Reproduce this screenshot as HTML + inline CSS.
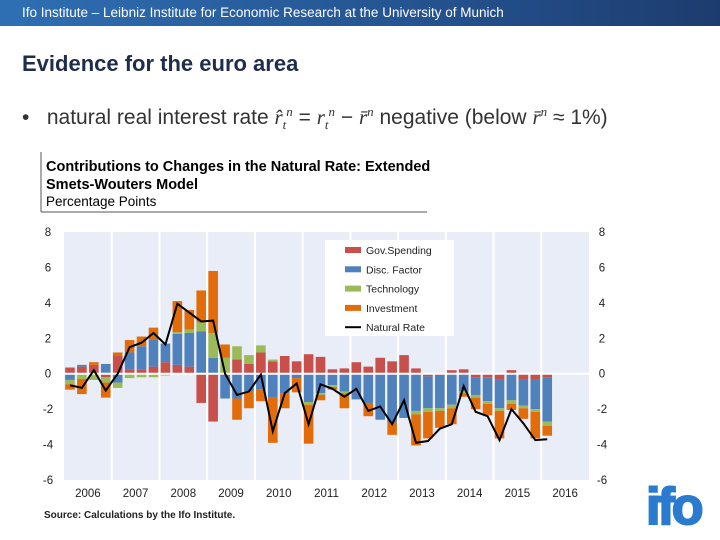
<!DOCTYPE html>
<html><head><meta charset="utf-8">
<style>
body{margin:0;width:720px;height:540px;background:#fff;font-family:"Liberation Sans",sans-serif;position:relative;overflow:hidden}
.hdr{position:absolute;left:0;top:0;width:720px;height:26px;background:linear-gradient(90deg,#2e6fb3,#24528f 60%,#1d3c6e)}
.hdr span{position:absolute;left:22px;top:5px;color:#fff;font-size:13.5px}
.title{position:absolute;left:22px;top:51px;font-size:22px;color:#1f2d4d;font-weight:bold}
.bullet{position:absolute;left:22px;top:104px;font-size:21px;color:#333}
</style></head><body>
<div class="hdr"><span>Ifo Institute – Leibniz Institute for Economic Research at the University of Munich</span></div>
<div class="title">Evidence for the euro area</div>
<div class="bullet">•&nbsp;&nbsp; natural real interest rate <i style="font-family:'Liberation Serif',serif">r̂<sub style="font-size:13px">t</sub><sup style="font-size:13px">n</sup></i> = <i style="font-family:'Liberation Serif',serif">r<sub style="font-size:13px">t</sub><sup style="font-size:13px">n</sup></i> − <i style="font-family:'Liberation Serif',serif">r̄<sup style="font-size:13px">n</sup></i> negative (below <i style="font-family:'Liberation Serif',serif">r̄<sup style="font-size:13px">n</sup></i> ≈ 1%)</div>
<svg id="chart" width="720" height="540" style="position:absolute;left:0;top:0">
<line x1="41" y1="152" x2="41" y2="212" stroke="#555" stroke-width="1"/>
<line x1="41" y1="212" x2="427" y2="212" stroke="#555" stroke-width="1"/>
<text x="46" y="171" font-size="14.5" font-weight="bold" fill="#000">Contributions to Changes in the Natural Rate: Extended</text>
<text x="46" y="189" font-size="14.5" font-weight="bold" fill="#000">Smets-Wouters Model</text>
<text x="46" y="206" font-size="13.5" fill="#000">Percentage Points</text>
<g id="plot"></g>
<text x="44" y="518" font-size="10" font-weight="bold" fill="#222">Source: Calculations by the Ifo Institute.</text>
<text x="646" y="524" font-size="52" font-weight="bold" fill="#2a7bd0" stroke="#2a7bd0" stroke-width="2" letter-spacing="-3">ifo</text>
</svg>
<script>
const years=["2006","2007","2008","2009","2010","2011","2012","2013","2014","2015","2016"];
const yTicks=[8,6,4,2,0,-2,-4,-6];
const gov=[.35,.4,.5,-.2,1.0,.25,.25,.4,.65,.5,.4,-1.65,-2.7,-.1,.8,.55,1.2,.7,1.0,.7,1.1,.95,.25,.3,.65,.4,.9,.7,1.05,.3,-.15,-.1,.2,.25,-.2,-.2,-.3,.2,-.3,-.3,-.2];
const disc=[-.35,.1,0,.55,-.5,.95,1.3,1.55,1.05,1.75,1.9,2.4,.9,-1.3,-1.4,-1.0,-.9,-1.35,-1.1,-.25,-1.6,-1.1,-.65,-1.0,-1.45,-1.65,-2.6,-2.75,-2.5,-2.1,-1.8,-1.85,-1.75,-1.0,-1.0,-1.35,-1.65,-1.5,-1.5,-1.7,-2.5];
const tech=[-.25,-.3,-.35,-.3,-.3,-.25,-.2,-.2,-.1,.1,.2,.5,1.4,.9,.75,.5,.4,.1,0,0,-.15,-.1,-.1,-.1,0,0,0,0,0,-.2,-.2,-.15,-.2,-.1,-.15,-.15,-.15,-.2,-.15,-.15,-.25];
const inv=[-.3,-.85,.15,-.85,.2,.7,.55,.65,0,1.75,1.1,1.8,3.5,.75,-1.2,-.95,-.65,-2.55,-.85,-.8,-2.2,-.3,-.15,-.85,0,-.75,0,-.7,0,-1.75,-1.5,-.95,-.9,-.2,-.65,-.65,-1.55,-.35,-.6,-1.5,-.55];
const natRate=[-.65,-.8,.2,-.95,0,1.5,1.75,2.3,1.65,3.95,3.45,2.95,3.0,0,-1.2,-1.0,-.05,-3.25,-1.1,-.55,-2.85,-.6,-.85,-1.3,-.85,-2.1,-1.85,-2.85,-1.5,-3.9,-3.8,-3.1,-2.85,-.7,-2.15,-2.4,-3.75,-2.0,-2.8,-3.75,-3.7];

const NS="http://www.w3.org/2000/svg";
const L=64,R=589,T=232,B=480,yMin=-6,yMax=8;
const yS=v=>T+(yMax-v)/(yMax-yMin)*(B-T);
const yw=(R-L)/years.length, qw=yw/4;
const xQ=i=>L+qw*(i+0.5);
const g=document.getElementById('plot');
function mk(tag,attrs){const e=document.createElementNS(NS,tag);for(const k in attrs)e.setAttribute(k,attrs[k]);g.appendChild(e);return e;}
let bg=mk('rect',{x:L,y:T,width:R-L,height:B-T,fill:'#e9edf7'});


years.forEach((yr,i)=>{
  if(i>0){let l=mk('line',{x1:L+yw*i,x2:L+yw*i,y1:T,y2:B,stroke:'#fff','stroke-width':2});
  
  }
  let t=mk('text',{x:L+yw*(i+0.5),y:497,'font-size':11.5,'text-anchor':'middle',fill:'#222'});t.textContent=yr;
  
  
});
yTicks.forEach(v=>{
  let a=mk('text',{x:48,y:yS(v)+4,'font-size':11.5,'text-anchor':'middle',fill:'#222'});a.textContent=v;
  
  
  let b=mk('text',{x:602,y:yS(v)+4,'font-size':11.5,'text-anchor':'middle',fill:'#222'});b.textContent=v;
  
  
});
const series=[[gov,'#c8504b','gov-spending'],[disc,'#4f81bd','disc-factor'],[tech,'#9bbb59','technology'],[inv,'#e36c0a','investment']];
for(let i=0;i<natRate.length;i++){
  let pos=0,neg=0;
  series.forEach(([arr,col,nm])=>{
    const v=arr[i];if(!v)return;
    let y0,y1;
    if(v>0){y0=pos;y1=pos+v;pos=y1;}else{y0=neg;y1=neg+v;neg=y1;}
    let r=mk('rect',{x:xQ(i)-4.8,width:9.6,y:Math.min(yS(y0),yS(y1)),height:Math.abs(yS(y1)-yS(y0)),fill:col});
    
    
  });
}
let z=mk('line',{x1:L,x2:R,y1:yS(0),y2:yS(0),stroke:'#fff','stroke-width':2});


let ln=mk('polyline',{points:natRate.map((v,i)=>xQ(i)+','+yS(v)).join(' '),fill:'none',stroke:'#000','stroke-width':2});


let lb=mk('rect',{x:325,y:240,width:129,height:96,fill:'#fff'});


const legend=[['Gov.Spending','#c8504b'],['Disc. Factor','#4f81bd'],['Technology','#9bbb59'],['Investment','#e36c0a'],['Natural Rate',null]];
legend.forEach(([lab,col],k)=>{
  const y=250+k*19.3;
  if(col){let s=mk('rect',{x:345,y:y-3,width:16,height:6,fill:col});
    
    }
  else{let s=mk('line',{x1:345,x2:361,y1:y,y2:y,stroke:'#000','stroke-width':2});
    
    }
  let t=mk('text',{x:366,y:y+4,'font-size':10.5,fill:'#222'});t.textContent=lab;
  
  
});
</script>
</body></html>
